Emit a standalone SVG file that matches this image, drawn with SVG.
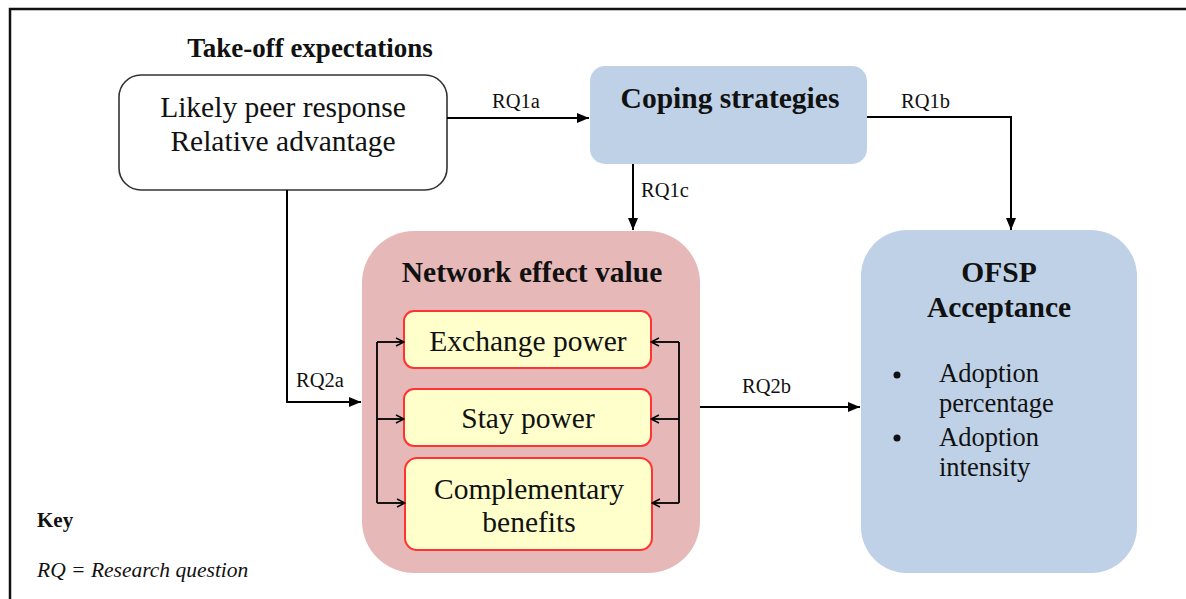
<svg xmlns="http://www.w3.org/2000/svg" width="1186" height="599" viewBox="0 0 1186 599">
<defs>
<marker id="solid" viewBox="0 0 12 10" refX="12" refY="5" markerWidth="12" markerHeight="10" markerUnits="userSpaceOnUse" orient="auto">
<path d="M0,0 L12,5 L0,10 Z" fill="#000"/>
</marker>
<marker id="open" viewBox="0 0 10 10" refX="9" refY="5" markerWidth="10" markerHeight="10" markerUnits="userSpaceOnUse" orient="auto">
<path d="M1,1 L9,5 L1,9" fill="none" stroke="#000" stroke-width="1.5"/>
</marker>
<style>
text{font-family:"Liberation Serif",serif;fill:#111;}
.b{font-weight:bold;}
.c{text-anchor:middle;}
.big{font-size:29.5px;}
.lbl{font-size:20.5px;}
.bul{font-size:26.5px;}
.conn{fill:none;stroke:#000;stroke-width:2;}
.inner{fill:none;stroke:#000;stroke-width:1.8;}
.blue{fill:#bfd1e7;}
.sub{fill:#ffffcc;stroke:#ff3333;stroke-width:2;}
</style>
</defs>
<rect width="1186" height="599" fill="#fff"/>
<path d="M10,600 V9 H1190" fill="none" stroke="#111" stroke-width="2.5"/>

<g id="takeoff">
<text class="b c" x="310" y="57" style="font-size:27px">Take-off expectations</text>
<rect x="119" y="75" width="328" height="115" rx="22" fill="#fff" stroke="#333" stroke-width="1.6"/>
<text class="c big" x="283" y="117">Likely peer response</text>
<text class="c big" x="283" y="151">Relative advantage</text>
</g>

<g id="coping">
<rect class="blue" x="590" y="66" width="277" height="98" rx="15"/>
<text class="b c big" x="730" y="108">Coping strategies</text>
</g>

<g id="network">
<rect x="362" y="231" width="338" height="342" rx="52" fill="#e6b9b8"/>
<text class="b c big" x="532" y="282">Network effect value</text>
<g id="exchange">
<rect class="sub" x="404" y="311" width="247" height="57" rx="10"/>
<text class="c big" x="528" y="351">Exchange power</text>
</g>
<g id="stay">
<rect class="sub" x="404" y="389" width="247" height="57" rx="10"/>
<text class="c big" x="528" y="428">Stay power</text>
</g>
<g id="complementary">
<rect class="sub" x="405" y="458" width="247" height="92" rx="12"/>
<text class="c big" x="529" y="499">Complementary</text>
<text class="c big" x="529" y="532">benefits</text>
</g>
</g>

<g id="ofsp">
<rect class="blue" x="861" y="230" width="276" height="343" rx="46"/>
<text class="b c big" x="999" y="282">OFSP</text>
<text class="b c big" x="999" y="317">Acceptance</text>
<circle cx="897" cy="375" r="3.5" fill="#111"/>
<circle cx="897" cy="438" r="3.5" fill="#111"/>
<text class="bul" x="939" y="382">Adoption</text>
<text class="bul" x="939" y="412">percentage</text>
<text class="bul" x="939" y="446">Adoption</text>
<text class="bul" x="939" y="476">intensity</text>
</g>

<g id="key">
<text class="b" x="37" y="527" style="font-size:21px">Key</text>
<text x="37" y="577" style="font-size:21.5px;font-style:italic">RQ = Research question</text>
</g>

<g id="connectors">
<path class="conn" d="M447,118 H589" marker-end="url(#solid)"/>
<text class="lbl" x="492" y="108">RQ1a</text>
<path class="conn" d="M867,117 H1011 V230" marker-end="url(#solid)"/>
<text class="lbl" x="901" y="108">RQ1b</text>
<path class="conn" d="M633,164 V230" marker-end="url(#solid)"/>
<text class="lbl" x="641" y="197">RQ1c</text>
<path class="conn" d="M287,190 V402 H361" marker-end="url(#solid)"/>
<text class="lbl" x="296" y="387">RQ2a</text>
<path class="conn" d="M700,407 H860" marker-end="url(#solid)"/>
<text class="lbl" x="742" y="393">RQ2b</text>
<path class="inner" d="M377,342 V503"/>
<path class="inner" d="M377,342 H404" marker-end="url(#open)"/>
<path class="inner" d="M377,419 H404" marker-end="url(#open)"/>
<path class="inner" d="M377,503 H405" marker-end="url(#open)"/>
<path class="inner" d="M679,342 V503"/>
<path class="inner" d="M679,342 H651" marker-end="url(#open)"/>
<path class="inner" d="M679,419 H651" marker-end="url(#open)"/>
<path class="inner" d="M679,503 H652" marker-end="url(#open)"/>
</g>
</svg>
